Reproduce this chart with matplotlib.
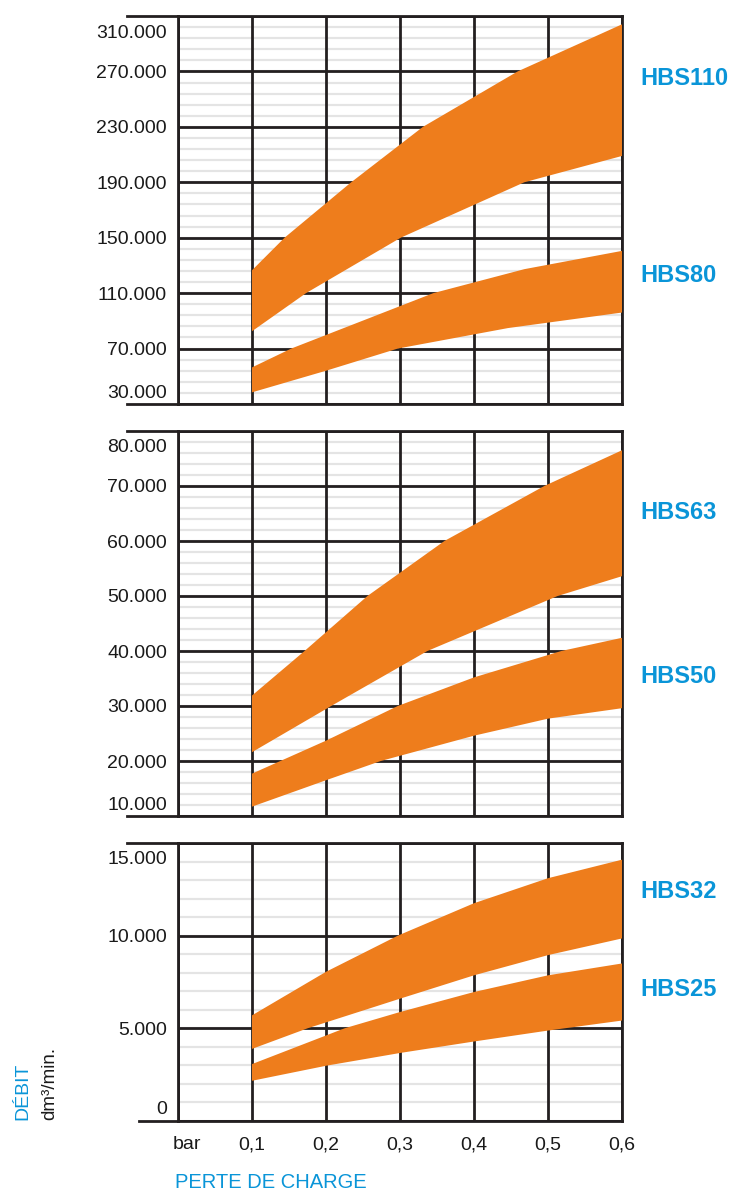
import numpy as np
import matplotlib.pyplot as plt
from matplotlib.transforms import ScaledTranslation, blended_transform_factory

plt.rcParams['font.family'] = ['Liberation Sans', 'DejaVu Sans']

# pressure drop (bar) and flow (dm3/min);
# each band edge has its own x points (mostly where it crosses the grid)
x_ticks = [0, 0.1, 0.2, 0.3, 0.4, 0.5, 0.6]
x_labels = ['bar', '0,1', '0,2', '0,3', '0,4', '0,5', '0,6']

hbs110_hi_x = [0.1, 0.144, 0.234, 0.331, 0.459, 0.6]
hbs110_hi_y = [126500, 150000, 190000, 230000, 270000, 304000]
hbs110_lo_x = [0.1, 0.173, 0.301, 0.468, 0.6]
hbs110_lo_y = [82500, 110000, 150000, 190000, 209000]
hbs80_hi_x = [0.1, 0.153, 0.345, 0.468, 0.6]
hbs80_hi_y = [56400, 70000, 110000, 127300, 140500]
hbs80_lo_x = [0.1, 0.2, 0.297, 0.446, 0.6]
hbs80_lo_y = [38400, 54000, 70000, 84800, 96000]

hbs63_hi_x = [0.1, 0.171, 0.256, 0.36, 0.495, 0.6]
hbs63_hi_y = [31900, 40000, 50000, 60000, 70000, 76500]
hbs63_lo_x = [0.1, 0.207, 0.337, 0.513, 0.6]
hbs63_lo_y = [21600, 30000, 40000, 50000, 53600]
hbs50_hi_x = [0.1, 0.2, 0.297, 0.4, 0.518, 0.6]
hbs50_hi_y = [17700, 23700, 30000, 35200, 40000, 42400]
hbs50_lo_x = [0.1, 0.2, 0.274, 0.4, 0.5, 0.6]
hbs50_lo_y = [11700, 16500, 20000, 24600, 27700, 29600]

hbs32_hi_x = [0.1, 0.2, 0.297, 0.4, 0.5, 0.6]
hbs32_hi_y = [5700, 8050, 10000, 11750, 13100, 14100]
hbs32_lo_x = [0.1, 0.175, 0.3, 0.4, 0.5, 0.6]
hbs32_lo_y = [3890, 5000, 6600, 7860, 8950, 9850]
hbs25_hi_x = [0.1, 0.225, 0.3, 0.4, 0.5, 0.6]
hbs25_hi_y = [3070, 5000, 5880, 6960, 7860, 8500]
hbs25_lo_x = [0.1, 0.2, 0.3, 0.4, 0.5, 0.6]
hbs25_lo_y = [2170, 2980, 3670, 4290, 4880, 5420]

top_ticks = [30000, 70000, 110000, 150000, 190000, 230000, 270000, 310000]
top_labels = ['30.000', '70.000', '110.000', '150.000', '190.000', '230.000', '270.000', '310.000']
mid_ticks = [10000, 20000, 30000, 40000, 50000, 60000, 70000, 80000]
mid_labels = ['10.000', '20.000', '30.000', '40.000', '50.000', '60.000', '70.000', '80.000']
bot_ticks = [0, 5000, 10000, 15000]
bot_labels = ['0', '5.000', '10.000', '15.000']

ORANGE = '#ee7d1c'
BLUE = '#0a95d8'
DARK = '#231f20'

W, H = 732, 1193
fig = plt.figure(figsize=(W / 100, H / 100), dpi=100)


def px_axes(x0, y_top, x1, y_bot):
    return fig.add_axes([x0 / W, 1 - y_bot / H, (x1 - x0) / W, (y_bot - y_top) / H])


panels = [
    dict(box=(178, 16, 622, 404), ticks=top_ticks, labels=top_labels, minor=8000,
         bands=[(hbs110_lo_x, hbs110_lo_y, hbs110_hi_x, hbs110_hi_y, 'HBS110', 265000),
                (hbs80_lo_x, hbs80_lo_y, hbs80_hi_x, hbs80_hi_y, 'HBS80', 123000)],
         ext_bottom=-0.115),
    dict(box=(178, 431, 622, 816), ticks=mid_ticks, labels=mid_labels, minor=2000,
         bands=[(hbs63_lo_x, hbs63_lo_y, hbs63_hi_x, hbs63_hi_y, 'HBS63', 65100),
                (hbs50_lo_x, hbs50_lo_y, hbs50_hi_x, hbs50_hi_y, 'HBS50', 35300)],
         ext_bottom=-0.115),
    dict(box=(178, 843, 622, 1121), ticks=bot_ticks, labels=bot_labels, minor=1000,
         bands=[(hbs32_lo_x, hbs32_lo_y, hbs32_hi_x, hbs32_hi_y, 'HBS32', 12380),
                (hbs25_lo_x, hbs25_lo_y, hbs25_hi_x, hbs25_hi_y, 'HBS25', 7080)],
         ext_bottom=-0.088),
]

for i, p in enumerate(panels):
    ax = px_axes(*p['box'])
    ax.set_xlim(0, 0.6)
    ax.set_ylim(p['ticks'][0], p['ticks'][-1])
    ax.set_xticks(x_ticks)
    ax.set_yticks(p['ticks'], p['labels'])
    ax.tick_params(axis='both', which='both', length=0)
    ax.tick_params(axis='y', labelsize=14, pad=8, labelcolor='#1a1a1a')
    ax.set_axisbelow(True)
    # thin grey lines between the black ones, kept under the black grid
    ax.hlines(np.arange(p['ticks'][0], p['ticks'][-1], p['minor']), 0, 0.6,
              color='#e4e4e4', lw=1.6, zorder=0.3)
    ax.grid(which='major', color=DARK, lw=2.0)
    for s in ax.spines.values():
        s.set_color(DARK)
        s.set_linewidth(2.0)

    # first and last y labels sit inside the frame
    ylabs = ax.get_yticklabels()
    ylabs[0].set_transform(ylabs[0].get_transform() + ScaledTranslation(0, 0.13, fig.dpi_scale_trans))
    ylabs[-1].set_transform(ylabs[-1].get_transform() + ScaledTranslation(0, -0.15, fig.dpi_scale_trans))

    # top/bottom frame lines run out to the left
    ax.plot([-0.115, 0], [1, 1], transform=ax.transAxes, clip_on=False, color=DARK, lw=2.0)
    ax.plot([p['ext_bottom'], 0], [0, 0], transform=ax.transAxes, clip_on=False, color=DARK, lw=2.0)

    trans = blended_transform_factory(ax.transAxes, ax.transData)
    for lo_x, lo_y, hi_x, hi_y, name, ypos in p['bands']:
        ax.fill(list(hi_x) + list(lo_x)[::-1], list(hi_y) + list(lo_y)[::-1],
                color=ORANGE, lw=0, zorder=3)
        ax.text(1.0405, ypos, name, transform=trans, ha='left', va='center',
                color=BLUE, fontsize=17, fontweight='bold')

    if i < 2:
        ax.set_xticklabels([])
    else:
        ax.set_xticklabels(x_labels)
        ax.tick_params(axis='x', labelsize=14, pad=11, labelcolor='#1a1a1a')
        xl = ax.get_xticklabels()[0]
        xl.set_transform(xl.get_transform() + ScaledTranslation(0.09, 0, fig.dpi_scale_trans))

fig.text(175 / W, 1 - 1183 / H, 'PERTE DE CHARGE', ha='left', va='center',
         color=BLUE, fontsize=14.5)
fig.text(23 / W, 1 - 1120 / H, 'DÉBIT', rotation=90, ha='center', va='bottom',
         color=BLUE, fontsize=14)
fig.text(50 / W, 1 - 1120 / H, 'dm³/min.', rotation=90, ha='center', va='bottom',
         color='#1a1a1a', fontsize=13.5)

fig.savefig('out.png', dpi=100)
